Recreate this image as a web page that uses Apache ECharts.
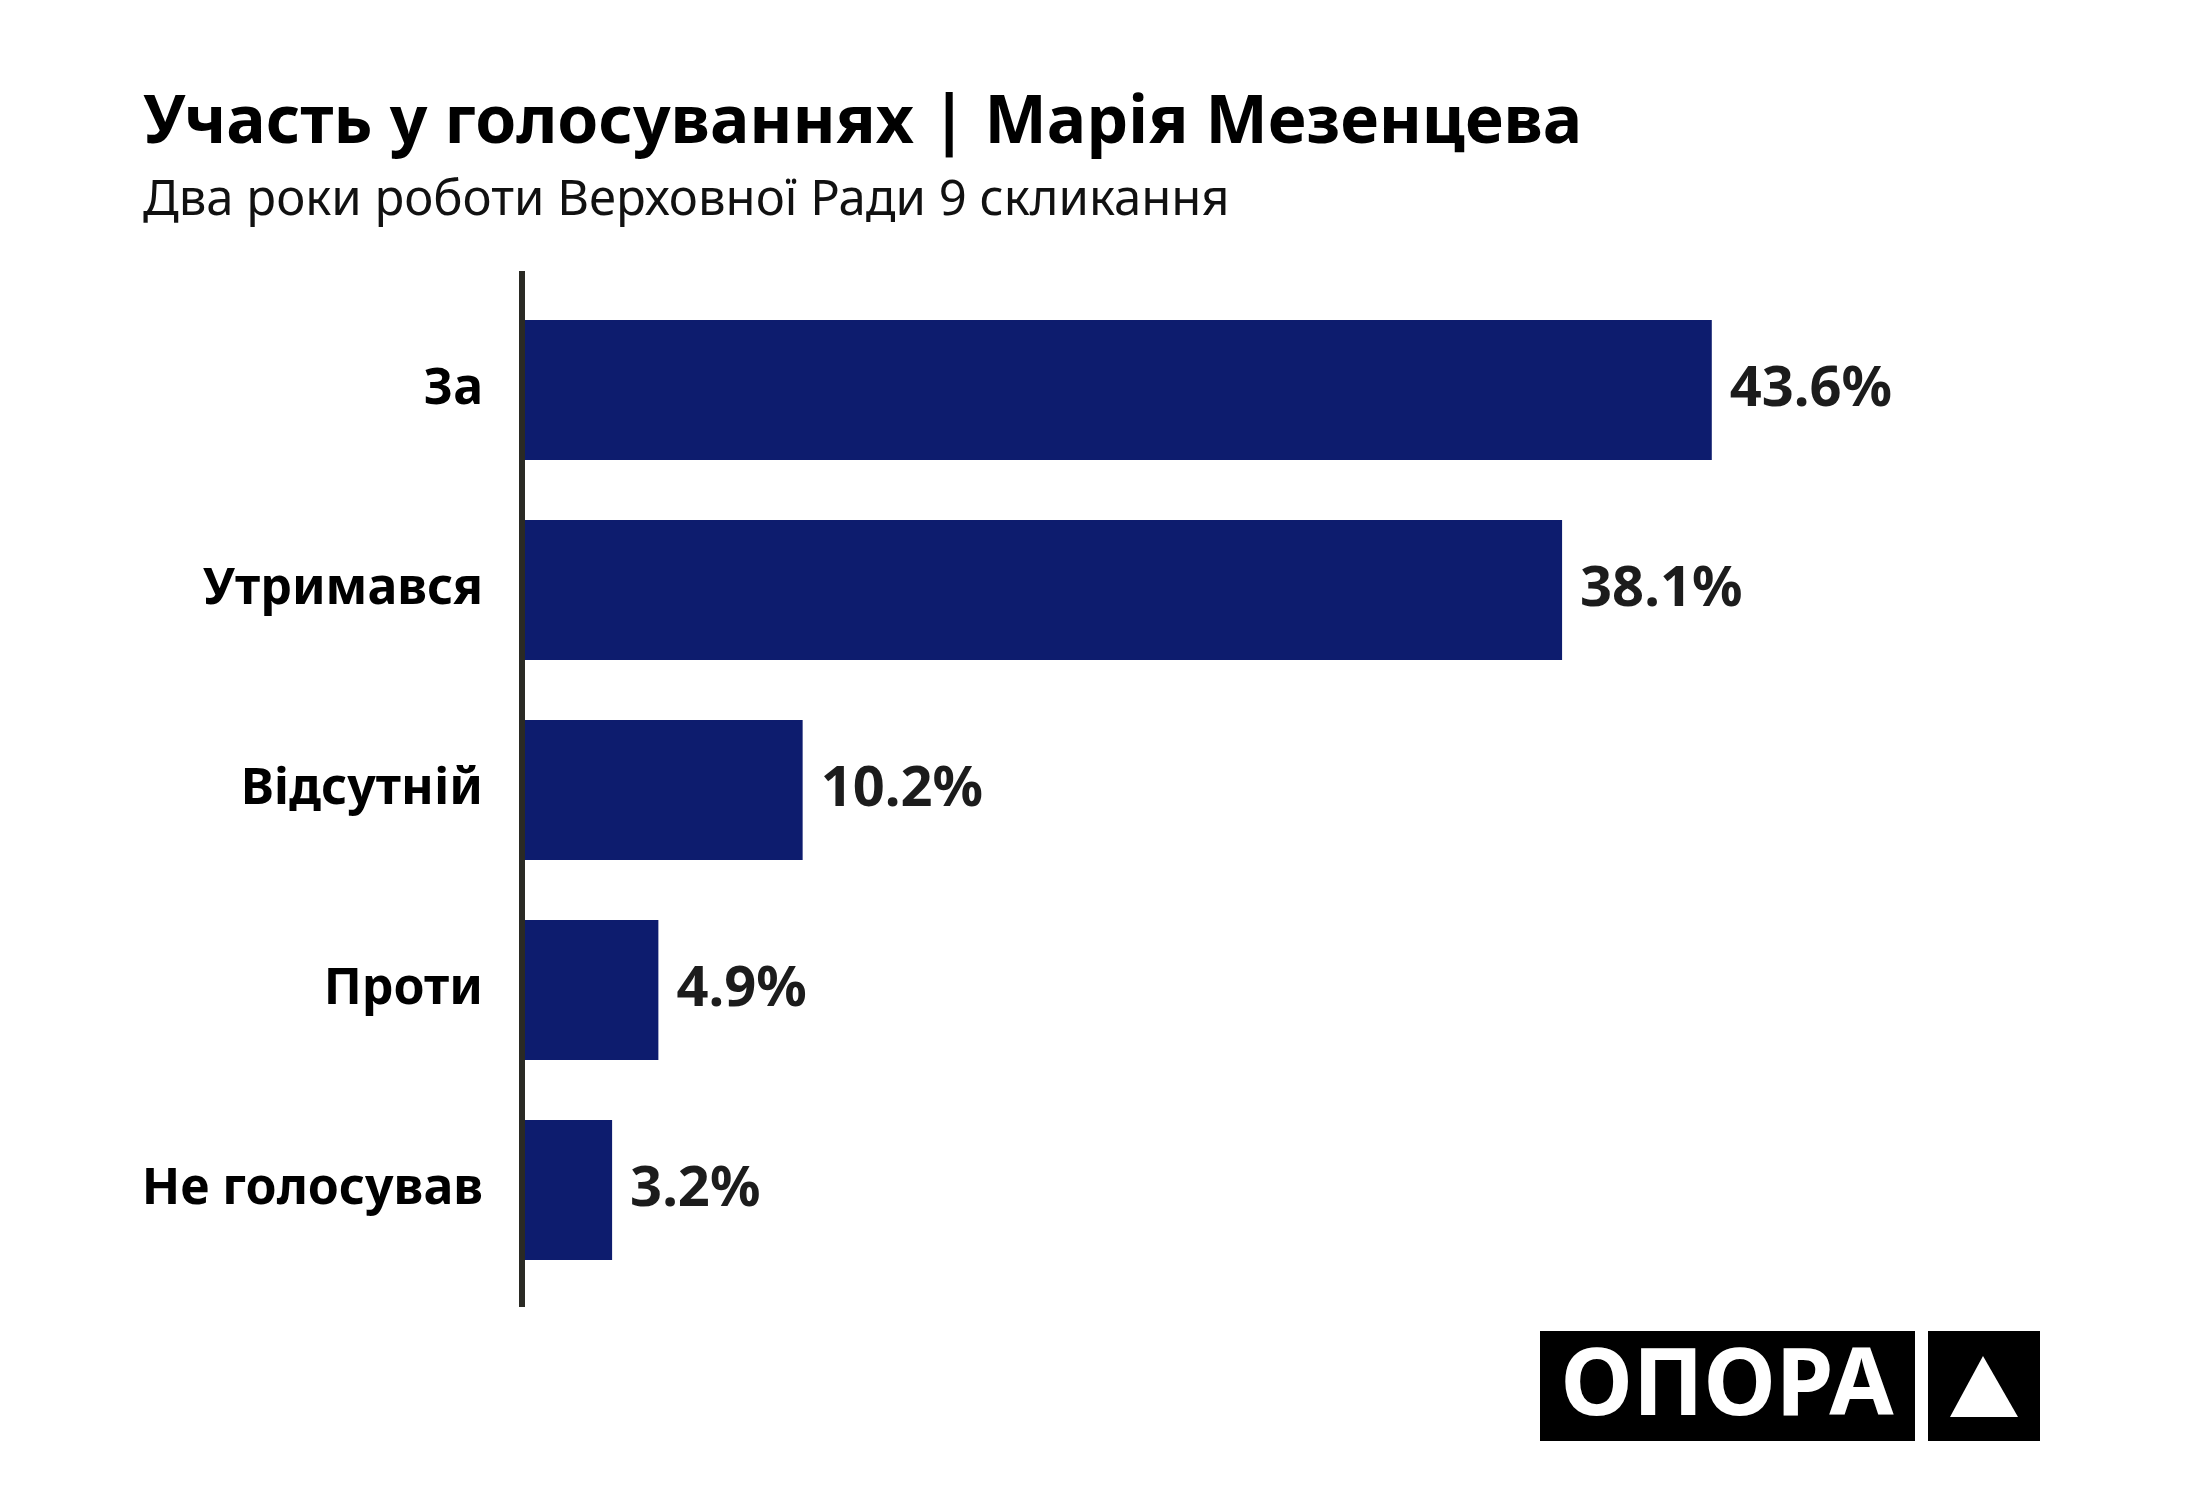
<!DOCTYPE html>
<html>
<head>
<meta charset="utf-8">
<script src="https://cdn.jsdelivr.net/npm/echarts@6/dist/echarts.min.js"></script>
<style>
  html, body { margin: 0; padding: 0; background: #fff; }
  #chart { width: 2200px; height: 1500px; }
</style>
</head>
<body>
<div id="chart"></div>
<script>
var categories = ['За', 'Утримався', 'Відсутній', 'Проти', 'Не голосував'];
var shares = [43.6, 38.1, 10.2, 4.9, 3.2];

var fontName = '"Noto Sans", "Open Sans", sans-serif';

var chart = echarts.init(document.getElementById('chart'));

var option = {
    backgroundColor: '#ffffff',
    animation: false,
    title: {
        text: 'Участь у голосуваннях | Марія Мезенцева',
        subtext: 'Два роки роботи Верховної Ради 9 скликання',
        left: 138,
        top: 86,
        itemGap: 20,
        textStyle: {
            fontFamily: fontName,
            fontSize: 66,
            fontWeight: 'bold',
            color: '#000'
        },
        subtextStyle: {
            fontFamily: fontName,
            fontSize: 49,
            color: '#111'
        }
    },
    grid: {
        left: 525,
        right: 314,
        top: 290,
        bottom: 210
    },
    xAxis: {
        type: 'value',
        min: 0,
        max: 50,
        show: false
    },
    yAxis: {
        type: 'category',
        data: categories,
        inverse: true,
        axisLine: { show: false },
        axisTick: { show: false },
        axisLabel: {
            margin: 42,
            padding: [18, 0, 0, 0],
            fontFamily: fontName,
            fontSize: 50,
            fontWeight: 'bold',
            color: '#000'
        }
    },
    series: [
        {
            type: 'bar',
            data: shares,
            barCategoryGap: '30%',
            itemStyle: { color: '#0d1c6e' },
            label: {
                show: true,
                position: 'right',
                distance: 18,
                padding: [14, 0, 0, 0],
                formatter: function (p) { return p.value.toFixed(1) + '%'; },
                fontFamily: fontName,
                fontSize: 56,
                fontWeight: 'bold',
                color: '#1c1c1c'
            }
        }
    ],
    graphic: [
        {
            // vertical baseline
            type: 'rect',
            shape: { x: 519, y: 271, width: 6, height: 1036 },
            style: { fill: '#2a2a24' }
        },
        {
            type: 'group',
            left: 1540,
            top: 1331,
            children: [
                { type: 'rect', shape: { x: 0, y: 0, width: 375, height: 110 }, style: { fill: '#000' } },
                {
                    type: 'text',
                    x: 187,
                    y: 57,
                    style: {
                        text: 'ОПОРА',
                        fill: '#fff',
                        font: 'bold 93px ' + fontName,
                        align: 'center',
                        verticalAlign: 'middle'
                    }
                },
                { type: 'rect', shape: { x: 388, y: 0, width: 112, height: 110 }, style: { fill: '#000' } },
                {
                    type: 'polygon',
                    shape: { points: [[443, 25], [410, 86], [478, 86]] },
                    style: { fill: '#fff' }
                }
            ]
        }
    ]
};

chart.setOption(option);
</script>
</body>
</html>
